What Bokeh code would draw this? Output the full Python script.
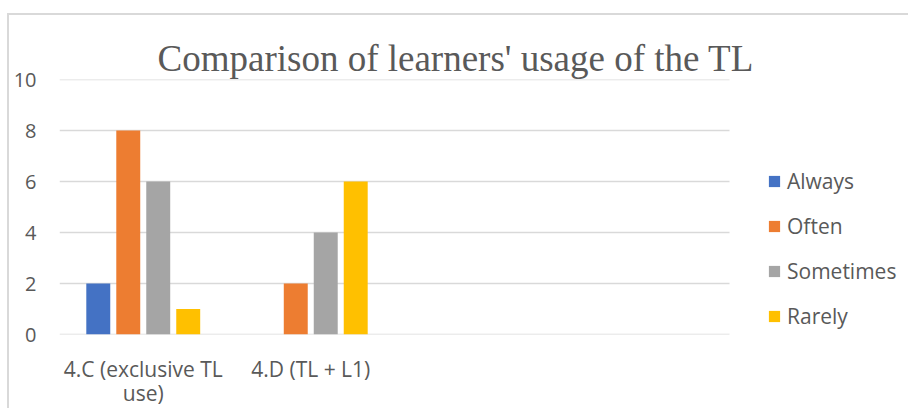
from bokeh.plotting import figure
from bokeh.models import Range1d, FixedTicker, Legend, LegendItem
from bokeh.embed import file_html
from bokeh.resources import INLINE

categories = ["4.C (exclusive TL\nuse)", "4.D (TL + L1)", "", ""]
series = ["Always", "Often", "Sometimes", "Rarely"]
always = [2, 0]
often = [8, 2]
sometimes = [6, 4]
rarely = [1, 6]
values = [always, often, sometimes, rarely]
colors = ["#4472C4", "#ED7D31", "#A5A5A5", "#FFC000"]
y_ticks = [0, 2, 4, 6, 8, 10]

TEXT = "#595959"
GRID = "#d9d9d9"

# layout (canvas pixels)
W, H = 901, 395
LEFT, TOP, BOTTOM = 50, 64, 75
CAT_PX = 167.5                      # width of one category slot
frame_w = W - LEFT
x_start = -0.5
x_end = x_start + frame_w / CAT_PX  # frame extends to the right to hold the legend

p = figure(width=W, height=H, output_backend="svg", toolbar_location=None,
           x_range=Range1d(x_start, x_end), y_range=Range1d(0, 10),
           min_border_left=LEFT, min_border_right=0, min_border_top=TOP,
           min_border_bottom=BOTTOM)
p.styles = {"margin-left": "7px", "margin-top": "13px",
            "border-top": "2px solid #d9d9d9", "border-left": "2px solid #d9d9d9"}

p.title.text = "Comparison of learners' usage of the TL"
p.title.text_font = "Liberation Serif"
p.title.text_font_size = "37px"
p.title.text_font_style = "normal"
p.title.text_color = TEXT
p.title.align = "left"
p.title.offset = 98
p.title.standoff = 1

# horizontal gridlines, only across the category slots
p.segment(x0=x_start, x1=len(categories) - 0.5, y0=y_ticks, y1=y_ticks,
          line_color=GRID, line_width=1.5)

stride = 0.179
bw = 0.143
items = []
for i, (name, vals, col) in enumerate(zip(series, values, colors)):
    xs = [j + (i - 1.5) * stride for j in range(len(vals))]
    r = p.vbar(x=xs, top=vals, bottom=0, width=bw, fill_color=col, line_color=None)
    items.append(LegendItem(label=name, renderers=[r]))

legend = Legend(items=items, location=(708, 4), padding=0, margin=0,
                border_line_alpha=0, background_fill_alpha=0,
                glyph_width=14, glyph_height=14, label_height=29, spacing=16,
                label_standoff=6, label_text_font="Open Sans",
                label_text_font_size="21px", label_text_color=TEXT)
p.add_layout(legend)

p.xaxis.ticker = FixedTicker(ticks=list(range(len(categories))))
p.xaxis.major_label_overrides = {j: c for j, c in enumerate(categories)}
p.yaxis.ticker = FixedTicker(ticks=y_ticks)
for ax in (p.xaxis, p.yaxis):
    ax.axis_line_color = None
    ax.major_tick_line_color = None
    ax.minor_tick_line_color = None
    ax.major_tick_out = 0
    ax.major_tick_in = 0
    ax.minor_tick_out = 0
    ax.minor_tick_in = 0
    ax.major_label_text_font = "Open Sans"
    ax.major_label_text_color = TEXT
p.yaxis.major_label_text_font_size = "20px"
p.xaxis.major_label_text_font_size = "21px"
p.xaxis.major_label_text_line_height = 0.875
p.yaxis.major_label_standoff = 23
p.xaxis.major_label_standoff = 20

p.xgrid.grid_line_color = None
p.ygrid.grid_line_color = None
p.outline_line_color = None

open("out.html", "w").write(file_html(p, INLINE))
